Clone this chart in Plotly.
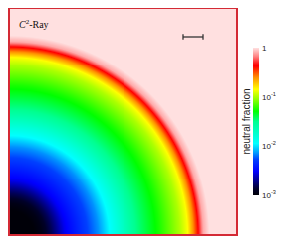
import numpy as np
import plotly.graph_objects as go

# Radial profile: distance from the lower-left corner (box cells)
# and log10 of the neutral fraction at that distance
profile_r = [0, 25, 32, 42, 55, 72, 89, 100, 126, 150, 170, 178, 184, 189, 194, 200, 400]
profile_logf = [-3.1, -3.0, -2.95, -2.8, -2.55, -2.35, -2.15, -1.95, -1.5, -1.25, -1.0, -0.85, -0.6, -0.35, -0.1, 0.0, 0.0]

box_x = 228
box_y = 227
tick_vals = [-3, -2, -1, 0]
tick_text = ["10<sup>-3</sup>", "10<sup>-2</sup>", "10<sup>-1</sup>", "1"]
scale_bar = [174, 194, 198]  # x0, x1, y (box cells)

n = 230
xs = np.linspace(0, box_x, n)
ys = np.linspace(0, box_y, n)
X, Y = np.meshgrid(xs, ys)
R = np.sqrt(X**2 + Y**2)
Z = np.interp(R, profile_r, profile_logf)

colorscale = [
    [0.0, "#000008"],
    [0.04, "#000028"],
    [0.1, "#000090"],
    [0.16, "#0000ff"],
    [0.24, "#0040ff"],
    [0.29, "#00a0ff"],
    [0.35, "#00ffff"],
    [0.5, "#00ff90"],
    [0.57, "#00ff00"],
    [0.66, "#a0ff00"],
    [0.72, "#ffff00"],
    [0.8, "#ff9000"],
    [0.88, "#ff0000"],
    [0.94, "#ff8080"],
    [1.0, "#ffe0e0"],
]

fig = go.Figure()
fig.add_trace(go.Heatmap(
    x=xs, y=ys, z=Z, zmin=-3, zmax=0, zsmooth="best",
    colorscale=colorscale,
    colorbar=dict(
        x=1.07, xanchor="left", y=0.5, yanchor="middle",
        len=0.648, lenmode="fraction", thickness=6, outlinewidth=0,
        xpad=0, ypad=0,
        tickvals=tick_vals, ticktext=tick_text,
        ticks="outside", ticklen=2, tickcolor="rgba(0,0,0,0)",
        tickfont=dict(family="Liberation Sans, Arial", size=8, color="#222"),
    ),
))

fig.add_shape(type="rect", xref="paper", yref="paper", x0=0, x1=1, y0=0, y1=1,
              line=dict(color="#d42a35", width=2))
# scale bar
fig.add_shape(type="line", x0=scale_bar[0], x1=scale_bar[1], y0=scale_bar[2], y1=scale_bar[2],
              line=dict(color="#333", width=1.3))
fig.add_shape(type="line", x0=scale_bar[0], x1=scale_bar[0], y0=scale_bar[2] - 2.7, y1=scale_bar[2] + 2.7,
              line=dict(color="#333", width=1.3))
fig.add_shape(type="line", x0=scale_bar[1], x1=scale_bar[1], y0=scale_bar[2] - 2.7, y1=scale_bar[2] + 2.7,
              line=dict(color="#333", width=1.3))

fig.add_annotation(xref="paper", yref="paper", x=0.035, y=0.93, xanchor="left", yanchor="middle",
                   text="<i>C</i><sup>2</sup>-Ray", showarrow=False,
                   font=dict(family="Liberation Serif, Times New Roman", size=10, color="#111"))
fig.add_annotation(xref="paper", yref="paper", x=1.04, y=0.5, xanchor="center", yanchor="middle",
                   text="neutral fraction", textangle=-90, showarrow=False,
                   font=dict(family="Liberation Sans, Arial", size=10, color="#222"))

fig.update_xaxes(range=[0, box_x], visible=False, showgrid=False, zeroline=False)
fig.update_yaxes(range=[0, box_y], visible=False, showgrid=False, zeroline=False)
fig.update_layout(
    width=276, height=234,
    margin=dict(l=1, r=47, t=0, b=7),
    paper_bgcolor="white", plot_bgcolor="white",
    showlegend=False,
)
fig.write_html("out.html")
